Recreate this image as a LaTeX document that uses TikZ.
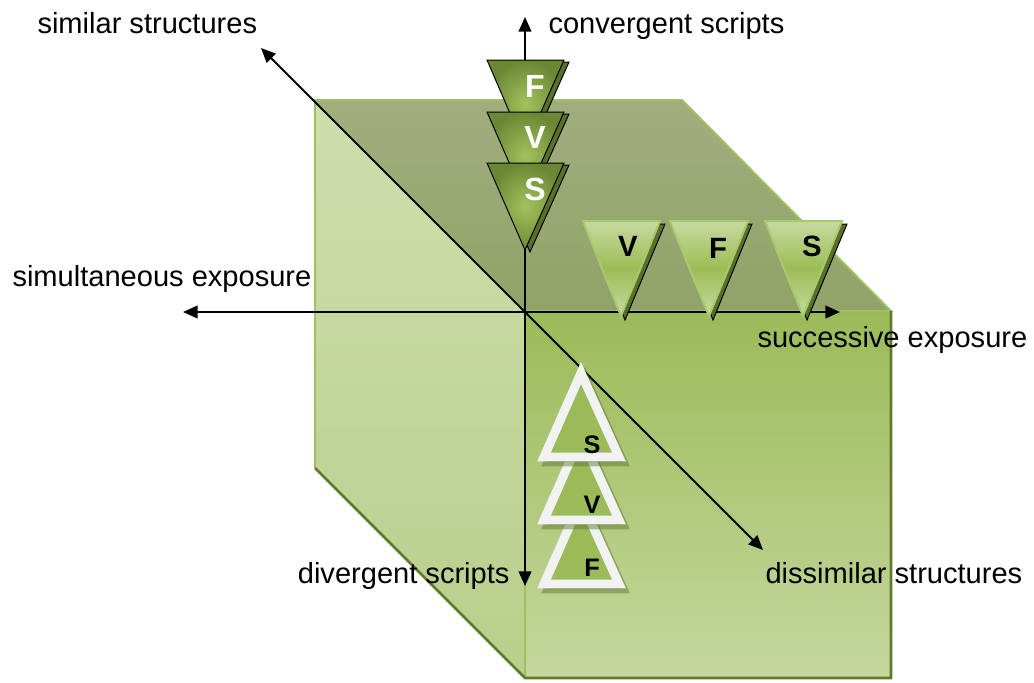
\documentclass[tikz,border=0pt]{standalone}
\usepackage{fontspec}
\setmainfont{Liberation Sans}
\usetikzlibrary{arrows.meta}

\definecolor{topA}{RGB}{160,174,125}
\definecolor{topB}{RGB}{145,163,104}
\definecolor{leftA}{RGB}{207,222,173}
\definecolor{leftB}{RGB}{184,207,138}
\definecolor{frontA}{RGB}{155,187,89}
\definecolor{frontB}{RGB}{197,215,157}
\definecolor{edgeLight}{RGB}{160,192,100}
\definecolor{edgeDark}{RGB}{96,122,44}
\definecolor{triLight}{RGB}{162,194,94}
\definecolor{triDark}{RGB}{106,136,52}
\definecolor{triShadow}{RGB}{88,112,40}
\definecolor{rowLight}{RGB}{200,218,160}
\definecolor{rowMid}{RGB}{155,189,86}
\definecolor{rowEdge}{RGB}{168,202,110}
\definecolor{botFill}{RGB}{155,187,89}
\definecolor{botEdge}{RGB}{242,242,242}

\tikzset{every picture/.style={line width=0.75pt}}
\tikzset{
  axis/.style={line width=1.5pt, {Triangle[length=11pt,width=9.5pt]}-{Triangle[length=11pt,width=9.5pt]}},
  axislabel/.style={inner sep=0pt, font=\fontsize{21.8pt}{26pt}\selectfont},
  colTri/.style={shading=radial, inner color=triLight, outer color=triDark},
  colShadow/.style={fill=triShadow},
  colLetter/.style={inner sep=0pt, text=white, font=\fontsize{24pt}{28pt}\selectfont\bfseries},
  rowTri/.style={top color=rowLight, bottom color=rowLight, middle color=rowMid, draw=rowEdge, line width=1.5pt},
  rowShadow/.style={fill=triShadow},
  rowLetter/.style={inner sep=0pt, font=\fontsize{22pt}{26pt}\selectfont\bfseries},
  botTri/.style={fill=botFill, draw=botEdge, line width=6.7pt, line join=miter},
  botShadow/.style={fill=triShadow, draw=triShadow, line width=6.7pt, line join=miter, opacity=0.45},
  botLetter/.style={inner sep=0pt, font=\fontsize{19pt}{23pt}\selectfont\bfseries}
}

\begin{document}
\begin{tikzpicture}[x=0.75pt,y=0.75pt,yscale=-1,xscale=1]
\path[use as bounding box] (0,0) rectangle (1034,682);

%Shape: top face
    \fill [top color=topA, bottom color=topB] (315,100) -- (682,100) -- (891,311) -- (525,311) -- cycle ;
%Shape: left face
    \fill [top color=leftA, bottom color=leftB] (315,100) -- (525,311) -- (525,678) -- (315,468) -- cycle ;
%Shape: front face
    \fill [top color=frontA, bottom color=frontB] (525,311) -- (891,311) -- (891,678) -- (525,678) -- cycle ;
%Cube edges
    \draw [edgeLight, line width=1.5pt] (525,678) -- (525,311) -- (315,100) -- (682,100) -- (891,311) -- (525,311) ;
    \draw [edgeLight, line width=1.5pt] (315,100) -- (315,468) ;
    \draw [edgeDark, line width=2pt] (315,468) -- (525,678) -- (891,678) -- (891,311) ;

%Axes
    \coordinate (origin) at (525,312) ;
    \coordinate (west) at (183,312) ;
    \coordinate (east) at (840,312) ;
    \coordinate (north) at (525,17) ;
    \coordinate (south) at (525,586) ;
    \coordinate (northwest) at (261,48) ;
    \coordinate (southeast) at (763,550) ;
    \draw [axis] (west) -- (east) ;
    \draw [axis] (north) -- (south) ;
    \draw [axis] (northwest) -- (southeast) ;

%Converging column
    \draw [colShadow] (492,62) -- (569,62) -- (530,150) -- cycle ;
    \draw [colTri] (487,60) -- (564,60) -- (525,148) -- cycle ;
    \draw [colShadow] (492,114) -- (569,114) -- (530,201) -- cycle ;
    \draw [colTri] (487,112) -- (564,112) -- (525,199) -- cycle ;
    \draw [colShadow] (492,165) -- (569,165) -- (530,252) -- cycle ;
    \draw [colTri] (487,163) -- (564,163) -- (525,250) -- cycle ;

%Successive row
    \draw [rowShadow] (587,224) -- (665,224) -- (625,320) -- cycle ;
    \draw [rowTri] (583,221) -- (660,221) -- (621,316) -- cycle ;
    \draw [rowShadow] (674,224) -- (752,224) -- (713,320) -- cycle ;
    \draw [rowTri] (670,221) -- (748,221) -- (709,316) -- cycle ;
    \draw [rowShadow] (769,224) -- (847,224) -- (807,320) -- cycle ;
    \draw [rowTri] (765,221) -- (842,221) -- (803,316) -- cycle ;

%Diverging column
    \draw [botShadow] (548,589) -- (623,589) -- (585,505) -- cycle ;
    \draw [botTri] (544,584) -- (619,584) -- (581,500) -- cycle ;
    \draw [botShadow] (548,525) -- (623,525) -- (585,441) -- cycle ;
    \draw [botTri] (544,520) -- (619,520) -- (581,436) -- cycle ;
    \draw [botShadow] (548,462) -- (623,462) -- (585,378) -- cycle ;
    \draw [botTri] (544,457) -- (619,457) -- (581,373) -- cycle ;

% Letter Nodes
    \node [colLetter] (cF) at (535,86) {F};
    \node [colLetter] (cV) at (535,137) {V};
    \node [colLetter] (cS) at (535,189) {S};
    \node [rowLetter] (rV) at (628,246) {V};
    \node [rowLetter] (rF) at (718,248) {F};
    \node [rowLetter] (rS) at (812,246) {S};
    \node [botLetter] (bS) at (592,445) {S};
    \node [botLetter] (bV) at (592,505) {V};
    \node [botLetter] (bF) at (592,568) {F};

% Text Node
    \node [axislabel, anchor=base west] (simlbl) at (37,33) {similar structures};
% Text Node
    \node [axislabel, anchor=base west] (convlbl) at (548,33) {convergent scripts};
% Text Node
    \node [axislabel, anchor=base west] (simexlbl) at (12,286) {simultaneous exposure};
% Text Node
    \node [axislabel, anchor=base west] (sucexlbl) at (757,347) {successive exposure};
% Text Node
    \node [axislabel, anchor=base east] (divlbl) at (510,583) {divergent scripts};
% Text Node
    \node [axislabel, anchor=base west] (dissimlbl) at (765,583) {dissimilar structures};

\end{tikzpicture}
\end{document}
